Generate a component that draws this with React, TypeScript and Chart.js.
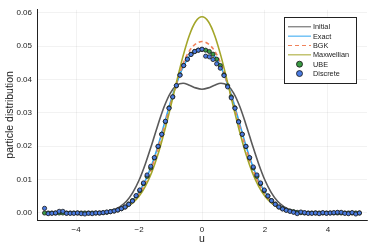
import React, { useEffect, useRef } from 'react';
import { Chart, registerables } from 'chart.js';

Chart.register(...registerables);

// velocity grid of the scatter series
const uGrid = [
  -5.000, -4.884, -4.767, -4.651, -4.535, -4.419, -4.302, -4.186, -4.070, -3.953,
  -3.837, -3.721, -3.605, -3.488, -3.372, -3.256, -3.140, -3.023, -2.907, -2.791,
  -2.674, -2.558, -2.442, -2.326, -2.209, -2.093, -1.977, -1.860, -1.744, -1.628,
  -1.512, -1.395, -1.279, -1.163, -1.047, -0.930, -0.814, -0.698, -0.581, -0.465,
  -0.349, -0.233, -0.116, 0.000, 0.116, 0.233, 0.349, 0.465, 0.581, 0.698,
  0.814, 0.930, 1.047, 1.163, 1.279, 1.395, 1.512, 1.628, 1.744, 1.860,
  1.977, 2.093, 2.209, 2.326, 2.442, 2.558, 2.674, 2.791, 2.907, 3.023,
  3.140, 3.256, 3.372, 3.488, 3.605, 3.721, 3.837, 3.953, 4.070, 4.186,
  4.302, 4.419, 4.535, 4.651, 4.767, 4.884, 5.000,
];

const ubeValues = [
  0, 0, 0, 0, 0, 0, 0, 0, 0, 0,
  0, 0, 0, 0, 0, 0, 0.0001, 0.0002, 0.0004, 0.0006,
  0.0009, 0.0013, 0.0018, 0.0027, 0.0037, 0.0051, 0.0067, 0.0088, 0.0110, 0.0135,
  0.0165, 0.0199, 0.0236, 0.0274, 0.0315, 0.0348, 0.0381, 0.0414, 0.0442, 0.0461,
  0.0476, 0.0484, 0.0488, 0.0490, 0.0488, 0.0484, 0.0476, 0.0461, 0.0442, 0.0414,
  0.0381, 0.0348, 0.0315, 0.0274, 0.0236, 0.0199, 0.0165, 0.0135, 0.0110, 0.0088,
  0.0067, 0.0051, 0.0037, 0.0027, 0.0018, 0.0013, 0.0009, 0.0006, 0.0004, 0.0002,
  0.0001, 0, 0, 0, 0, 0, 0, 0, 0, 0,
  0, 0, 0, 0, 0, 0, 0,
];

const discreteValues = [
  0.0014, -0.0002, -0.0001, 0.0000, 0.0005, 0.0005, -0.0001, -0.0001, -0.0001, 0.0000,
  -0.0002, -0.0003, -0.0001, -0.0002, 0.0000, 0.0000, 0.0001, 0.0003, 0.0004, 0.0006,
  0.0009, 0.0013, 0.0018, 0.0026, 0.0036, 0.0052, 0.0069, 0.0090, 0.0114, 0.0140,
  0.0166, 0.0200, 0.0236, 0.0275, 0.0314, 0.0348, 0.0382, 0.0413, 0.0442, 0.0461,
  0.0475, 0.0484, 0.0488, 0.0491, 0.0470, 0.0468, 0.0460, 0.0447, 0.0434, 0.0412,
  0.0378, 0.0345, 0.0314, 0.0273, 0.0236, 0.0200, 0.0166, 0.0138, 0.0114, 0.0090,
  0.0069, 0.0051, 0.0037, 0.0026, 0.0018, 0.0012, 0.0008, 0.0005, 0.0002, -0.0002,
  0.0003, 0.0001, -0.0001, -0.0001, 0.0000, -0.0002, 0.0001, -0.0001, 0.0000, 0.0001,
  0.0002, 0.0002, -0.0001, -0.0002, 0.0001, -0.0003, 0.0000,
];

// grid of the line series
const uLine = [
  -5.0, -4.8, -4.6, -4.4, -4.2, -4.0, -3.8, -3.6, -3.4, -3.2,
  -3.0, -2.8, -2.6, -2.4, -2.2, -2.0, -1.8, -1.6, -1.4, -1.2,
  -1.0, -0.8, -0.6, -0.4, -0.2, 0.0, 0.2, 0.4, 0.6, 0.8,
  1.0, 1.2, 1.4, 1.6, 1.8, 2.0, 2.2, 2.4, 2.6, 2.8,
  3.0, 3.2, 3.4, 3.6, 3.8, 4.0, 4.2, 4.4, 4.6, 4.8, 5.0,
];

const initialValues = [
  0, 0, 0, 0, 0, 0, 0, 0, 0.0001, 0.0002,
  0.0004, 0.0009, 0.0019, 0.0035, 0.0061, 0.0098, 0.0147, 0.0204, 0.0264, 0.0319,
  0.0360, 0.0383, 0.0389, 0.0383, 0.0375, 0.0371, 0.0375, 0.0383, 0.0389, 0.0383,
  0.0360, 0.0319, 0.0264, 0.0204, 0.0147, 0.0098, 0.0061, 0.0035, 0.0019, 0.0009,
  0.0004, 0.0002, 0.0001, 0, 0, 0, 0, 0, 0, 0, 0,
];

const exactValues = [
  0, 0, 0, 0, 0, 0, 0, 0, 0, 0.0001,
  0.0002, 0.0006, 0.0011, 0.0022, 0.0038, 0.0063, 0.0097, 0.0143, 0.0200, 0.0266,
  0.0333, 0.0390, 0.0438, 0.0470, 0.0485, 0.0490, 0.0485, 0.0470, 0.0438, 0.0390,
  0.0333, 0.0266, 0.0200, 0.0143, 0.0097, 0.0063, 0.0038, 0.0022, 0.0011, 0.0006,
  0.0002, 0.0001, 0, 0, 0, 0, 0, 0, 0, 0, 0,
];

const bgkValues = [
  0, 0, 0, 0, 0, 0, 0, 0, 0, 0.0001,
  0.0002, 0.0005, 0.0010, 0.0019, 0.0034, 0.0057, 0.0090, 0.0135, 0.0192, 0.0258,
  0.0326, 0.0390, 0.0447, 0.0486, 0.0507, 0.0514, 0.0507, 0.0486, 0.0447, 0.0390,
  0.0326, 0.0258, 0.0192, 0.0135, 0.0090, 0.0057, 0.0034, 0.0019, 0.0010, 0.0005,
  0.0002, 0.0001, 0, 0, 0, 0, 0, 0, 0, 0, 0,
];

const maxwellianValues = [
  0, 0, 0, 0, 0, 0, 0, 0, 0, 0.0001,
  0.0002, 0.0005, 0.0009, 0.0017, 0.0030, 0.0050, 0.0080, 0.0121, 0.0175, 0.0242,
  0.0317, 0.0396, 0.0471, 0.0533, 0.0574, 0.0588, 0.0574, 0.0533, 0.0471, 0.0396,
  0.0317, 0.0242, 0.0175, 0.0121, 0.0080, 0.0050, 0.0030, 0.0017, 0.0009, 0.0005,
  0.0002, 0.0001, 0, 0, 0, 0, 0, 0, 0, 0, 0,
];

const xTicks = [-4, -2, 0, 2, 4];
const yTicks = [0, 0.01, 0.02, 0.03, 0.04, 0.05, 0.06];
const seriesNames = ['Initial', 'Exact', 'BGK', 'Maxwellian', 'UBE', 'Discrete'];

const FONT = '"Liberation Sans", Arial, sans-serif';

const pair = (xs: number[], ys: number[]) => xs.map((x, i) => ({ x, y: ys[i] }));

const boxLegend = {
  id: 'boxLegend',
  afterDraw(chart: any) {
    const ctx = chart.ctx as CanvasRenderingContext2D;
    const area = chart.chartArea;
    const w = 72;
    const h = 66;
    const x0 = area.right - 83;
    const y0 = area.top + 7;
    ctx.save();
    ctx.fillStyle = '#ffffff';
    ctx.fillRect(x0, y0, w, h);
    ctx.strokeStyle = '#222222';
    ctx.lineWidth = 1;
    ctx.strokeRect(Math.round(x0) + 0.5, Math.round(y0) + 0.5, w, h);
    ctx.font = `7.3px ${FONT}`;
    ctx.textBaseline = 'middle';
    ctx.textAlign = 'left';
    chart.data.datasets.forEach((ds: any, i: number) => {
      const y = y0 + 10 + i * 9.35;
      const lx0 = x0 + 4;
      const lx1 = x0 + 27;
      if (ds.showLine === false) {
        ctx.beginPath();
        ctx.arc((lx0 + lx1) / 2, y, 3, 0, Math.PI * 2);
        ctx.fillStyle = ds.pointBackgroundColor;
        ctx.fill();
        ctx.lineWidth = 0.8;
        ctx.strokeStyle = '#111111';
        ctx.stroke();
      } else {
        ctx.beginPath();
        ctx.setLineDash(ds.borderDash || []);
        ctx.moveTo(lx0, y);
        ctx.lineTo(lx1, y);
        ctx.strokeStyle = ds.borderColor;
        ctx.lineWidth = 1;
        ctx.stroke();
        ctx.setLineDash([]);
      }
      ctx.fillStyle = '#222222';
      ctx.fillText(ds.label, x0 + 29, y + 0.5);
    });
    ctx.restore();
  },
};

export default function App() {
  const canvasRef = useRef<HTMLCanvasElement | null>(null);

  useEffect(() => {
    document.body.style.margin = '0';
    const canvas = canvasRef.current;
    if (!canvas) return;

    const lineDs = (label: string, ys: number[], color: string, order: number, dash?: number[]) => ({
      type: 'line' as const,
      label,
      data: pair(uLine, ys),
      borderColor: color,
      backgroundColor: color,
      borderWidth: 1.6,
      borderDash: dash,
      pointRadius: 0,
      fill: false,
      cubicInterpolationMode: 'monotone' as const,
      order,
    });
    const dotDs = (label: string, ys: number[], color: string, order: number) => ({
      type: 'line' as const,
      label,
      data: pair(uGrid, ys),
      showLine: false,
      pointRadius: 2.1,
      pointBorderWidth: 0.8,
      pointBackgroundColor: color,
      pointBorderColor: '#1a1a1a',
      borderColor: color,
      backgroundColor: color,
      order,
    });

    const chart = new Chart(canvas, {
      type: 'line',
      data: {
        datasets: [
          lineDs(seriesNames[0], initialValues, '#5a5a5a', 6),
          lineDs(seriesNames[1], exactValues, '#2fa6f2', 5),
          lineDs(seriesNames[2], bgkValues, '#f0825a', 4, [4, 3]),
          lineDs(seriesNames[3], maxwellianValues, '#a4a62a', 3),
          dotDs(seriesNames[4], ubeValues, '#3a9a44', 2),
          dotDs(seriesNames[5], discreteValues, '#4a7be0', 1),
        ] as any,
      },
      options: {
        responsive: false,
        animation: false,
        events: [],
        layout: { padding: { top: 7, right: 7, left: 0, bottom: 0 } },
        plugins: {
          legend: { display: false },
          tooltip: { enabled: false },
        },
        scales: {
          x: {
            type: 'linear',
            min: -5.24,
            max: 5.24,
            afterBuildTicks: (scale: any) => {
              scale.ticks = xTicks.map((v) => ({ value: v }));
            },
            afterFit: (scale: any) => {
              scale.height = 29;
            },
            grid: { color: 'rgba(0,0,0,0.09)', lineWidth: 0.6, drawTicks: false },
            border: { display: true, color: '#222222', width: 1 },
            ticks: {
              padding: 5,
              color: '#222222',
              font: { family: FONT, size: 8 },
              maxRotation: 0,
              callback: (v: any) => String(v).replace('-', '\u2212'),
            },
            title: {
              display: true,
              text: 'u',
              color: '#222222',
              font: { family: FONT, size: 10.5 },
              padding: 4,
            },
          },
          y: {
            type: 'linear',
            min: -0.0021,
            max: 0.0609,
            afterBuildTicks: (scale: any) => {
              scale.ticks = yTicks.map((v) => ({ value: v }));
            },
            afterFit: (scale: any) => {
              scale.width = 37;
            },
            grid: { color: 'rgba(0,0,0,0.09)', lineWidth: 0.6, drawTicks: false },
            border: { display: true, color: '#222222', width: 1 },
            ticks: {
              padding: 5,
              color: '#222222',
              font: { family: FONT, size: 8 },
              callback: (v: any) => Number(v).toFixed(2),
            },
            title: {
              display: true,
              text: 'particle distribution',
              color: '#222222',
              font: { family: FONT, size: 10.5 },
              padding: 4,
            },
          },
        },
      },
      plugins: [boxLegend],
    });

    return () => {
      chart.destroy();
    };
  }, []);

  return (
    <div style={{ width: 374, height: 249 }}>
      <canvas ref={canvasRef} width={374} height={249} />
    </div>
  );
}
